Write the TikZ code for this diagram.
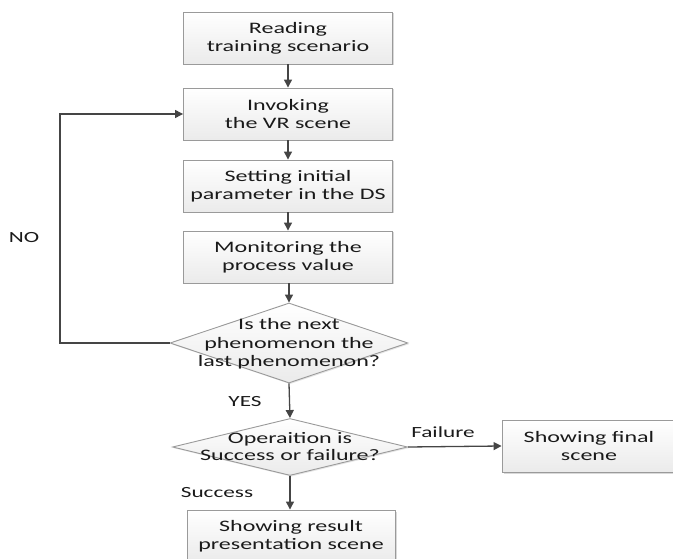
\documentclass[tikz,border=0pt]{standalone}
\usepackage{fontspec}
\setmainfont[FakeStretch=1.5]{Carlito}
\usetikzlibrary{shapes.geometric,arrows.meta,shadows}
\definecolor{edgegray}{HTML}{9A9A9A}
\definecolor{linegray}{HTML}{454545}
\definecolor{txt}{HTML}{1A1A1A}
\tikzset{
  procbox/.style={draw=edgegray, line width=0.9pt, top color=white, bottom color=black!8,
    minimum width=209pt, minimum height=52pt, inner sep=0pt, align=center,
    font=\fontsize{16}{18}\selectfont, text=txt,
    drop shadow={shadow xshift=1.5pt, shadow yshift=-1.5pt, fill=black!25, opacity=0.6}},
  decision/.style={diamond, draw=edgegray, line width=0.9pt, top color=white, bottom color=black!8,
    inner sep=0pt, align=center, text=txt,
    drop shadow={shadow xshift=1.2pt, shadow yshift=-1.2pt, fill=black!20, opacity=0.5}},
  dtext/.style={align=center, text=txt, inner sep=0pt},
  flow/.style={draw=linegray, line width=1.3pt, -{Triangle[length=8pt,width=8pt]}},
  lbl/.style={font=\fontsize{15.5}{18}\selectfont, text=txt, inner sep=0pt},
}
\begin{document}
\begin{tikzpicture}[x=1pt,y=-1pt]
\useasboundingbox (0,0) rectangle (673,559);
\node[procbox] (read) at (288,38) {Reading\\training scenario};
\node[procbox] (invoke) at (288,114) {Invoking\\the VR scene};
\node[procbox] (set) at (288,186) {Setting initial\\parameter in the DS};
\node[procbox] (mon) at (288,257) {Monitoring the\\process value};
\node[decision, minimum width=238pt, minimum height=80pt] (d1) at (289,343) {};
\node[dtext, font=\fontsize{16}{18.5}\selectfont] (d1t) at (289,344) {Is the next\\phenomenon the\\last phenomenon?};
\node[decision, minimum width=235pt, minimum height=57pt] (d2) at (290,447) {};
\node[dtext, font=\fontsize{16}{17}\selectfont] (d2t) at (290,447) {Operaition is\\Success or failure?};
\node[procbox, minimum width=174pt] (final) at (589,446) {Showing final\\scene};
\node[procbox, minimum width=208pt] (result) at (291,536) {Showing result\\presentation scene};

\coordinate (c1) at (60,343);
\coordinate (c2) at (60,114);
\draw[flow] (read) -- (invoke);
\draw[flow] (invoke) -- (set);
\draw[flow] (set) -- (mon);
\draw[flow] (mon.south -| d1.north) -- (d1.north);
\draw[flow] (d1.south) -- (d2.north);
\draw[flow] (d2.east) -- (final.west);
\draw[flow] (d2.south) -- (d2.south |- result.north);
\draw[flow] (d1.west) -- (c1) -- (c2) -- (invoke.west);

\node[lbl] (no) at (24,238) {NO};
\node[lbl] (yes) at (245,402) {YES};
\node[lbl] (fail) at (443,432) {Failure};
\node[lbl] (succ) at (217,493) {Success};
\end{tikzpicture}
\end{document}
